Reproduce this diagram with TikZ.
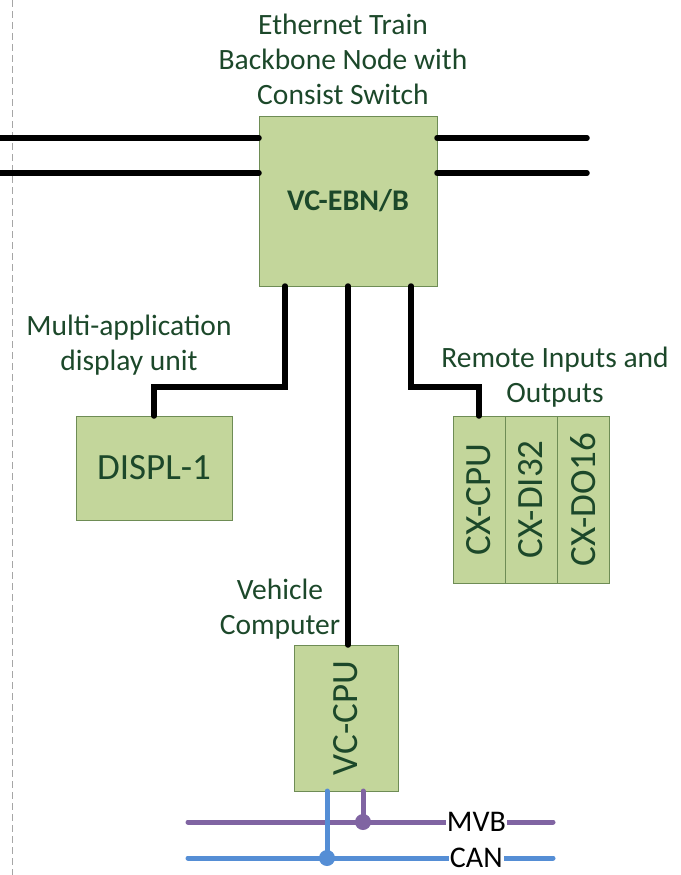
\documentclass[tikz,border=0pt]{standalone}
\usepackage{fontspec}
\setmainfont{Carlito}
\definecolor{boxfill}{RGB}{195,214,155}
\definecolor{boxline}{RGB}{110,140,85}
\definecolor{txtgreen}{RGB}{28,72,42}
\definecolor{mvbcol}{RGB}{128,100,162}
\definecolor{cancol}{RGB}{85,142,213}
\newcommand{\vtext}[1]{\rotatebox{90}{#1}}
\tikzset{
  unit/.style={
    draw=boxline,fill=boxfill,text=txtgreen,line width=1pt,
    inner sep=0pt,outer sep=0pt,font=\fontsize{37}{44}\selectfont
  },
  caption/.style={
    text=txtgreen,align=center,font=\fontsize{29.5}{35}\selectfont
  },
  eth/.style={line width=5.5pt,line cap=round,black},
  mvbbus/.style={line width=5pt,line cap=round,mvbcol},
  canbus/.style={line width=5pt,line cap=round,cancol},
  buslabel/.style={
    fill=white,text=black,inner xsep=1pt,inner ysep=0pt,
    text depth=0pt,font=\fontsize{30}{34}\selectfont
  }
}

\begin{document}
\begin{tikzpicture}[x=1pt,y=-1pt]
\useasboundingbox (0,0) rectangle (680,875);
\draw[gray!70,line width=0.8pt,dash pattern=on 7pt off 4pt] (12,0) -- (12,875);

% units
\node[unit,minimum width=178pt,minimum height=170pt,font=\fontsize{30}{36}\selectfont\bfseries] (ebn) at (348,201) {VC-EBN/B};
\node[unit,minimum width=156pt,minimum height=104pt] (displ) at (154,468) {DISPL-1};
\node[unit,minimum width=52pt,minimum height=167pt] (cxcpu) at (479,499.5) {\vtext{CX-CPU}};
\node[unit,minimum width=52pt,minimum height=167pt] (cxdi) at (531,499.5) {\vtext{CX-DI32}};
\node[unit,minimum width=52pt,minimum height=167pt] (cxdo) at (583,499.5) {\vtext{CX-DO16}};
\node[unit,minimum width=104pt,minimum height=146pt] (vccpu) at (346,718) {\vtext{VC-CPU}};

% captions
\node[caption] (ebncap) at (343,59) {Ethernet Train\\Backbone Node with\\Consist Switch};
\node[caption] (displcap) at (129,345) {Multi-application\\display unit};
\node[caption] (cxcap) at (555,377) {Remote Inputs and\\Outputs};
\node[caption] (vccap) at (280,609) {Vehicle\\Computer};

% train backbone
\coordinate (wa) at (0,138);
\coordinate (wb) at (0,173);
\coordinate (ea) at (587,138);
\coordinate (eb) at (587,173);
\draw[eth] (wa) -- (wa -| ebn.west);
\draw[eth] (wb) -- (wb -| ebn.west);
\draw[eth] (ebn.east |- ea) -- (ea);
\draw[eth] (ebn.east |- eb) -- (eb);

% consist network
\draw[eth] ([xshift=26pt]ebn.south west) -- ++(0,101) -| (displ.north);
\draw[eth] (ebn.south) -- (ebn.south |- vccpu.north);
\draw[eth] ([xshift=-26pt]ebn.south east) -- ++(0,101) -| (cxcpu.north);

% vehicle busses
\coordinate (mvbw) at (188,822);
\coordinate (mvbe) at (553,822);
\coordinate (canw) at (188,858);
\coordinate (cane) at (553,858);
\draw[mvbbus] (mvbw) -- (mvbe) node[buslabel,pos=0.79] (mvb) {MVB};
\draw[mvbbus] ([xshift=17pt]vccpu.south) -- ([xshift=17pt]vccpu.south |- mvbw) coordinate (mvbtap);
\fill[mvbcol] (mvbtap) circle (8pt);
\draw[canbus] (canw) -- (cane) node[buslabel,pos=0.79] (can) {CAN};
\draw[canbus] ([xshift=-19pt]vccpu.south) -- ([xshift=-19pt]vccpu.south |- canw) coordinate (cantap);
\fill[cancol] (cantap) circle (8pt);
\end{tikzpicture}
\end{document}
